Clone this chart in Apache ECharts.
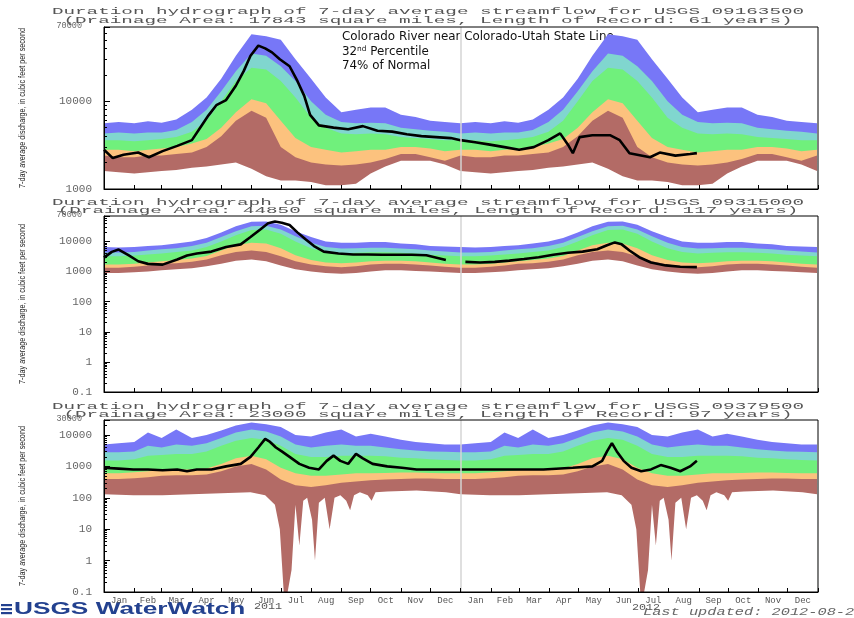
<!DOCTYPE html>
<html lang="en">
<head>
<meta charset="UTF-8">
<title>Duration hydrographs - Colorado, Green, San Juan</title>
<script src="https://cdn.jsdelivr.net/npm/echarts@6/dist/echarts.min.js"></script>
<style>
html, body { margin: 0; padding: 0; background: #fff; }
#chart { width: 854px; height: 618px; }
</style>
</head>
<body>
<div id="chart"></div>
<script>
// x axis: days since 2011-01-01
var monthNames = ['Jan','Feb','Mar','Apr','May','Jun','Jul','Aug','Sep','Oct','Nov','Dec'];
var monthStarts = [0,31,59,90,120,151,181,212,243,273,304,334,365,396,425,456,486,517,547,578,609,639,670,700,731];
var yearLabels = ['2011', '2012'];

// percentile bands, day of year (same statistics are drawn for both years)
var bandDays = [0,15,31,45,59,74,90,105,120,135,151,166,181,196,212,227,243,258,273,288,304,319,334,349,365];

// --- Colorado River near Colorado-Utah State Line (09163500)
var coMax = [5600,5800,5600,5900,5700,6200,8000,11000,18000,33000,58000,55000,50000,30000,18000,11000,7500,8000,8500,8500,7000,6600,6000,5800,5600];
var coP90 = [4300,4400,4300,4400,4400,4700,5800,8000,13000,22000,35000,33000,25000,17000,10000,7000,5800,5600,5700,5600,5000,4800,4600,4500,4300];
var coP75 = [3600,3600,3500,3600,3700,3900,4500,6000,10000,17000,24000,23000,17000,11000,6500,5000,4300,4200,4300,4200,3900,3800,3700,3600,3600];
var coP25 = [2800,2800,2700,2800,2900,3000,3300,3700,5000,7500,10500,9500,6000,3800,3000,2800,2600,2700,2800,2800,3000,3000,2900,2700,2800];
var coP10 = [2400,2300,2300,2400,2400,2500,2600,3000,4000,6000,7800,6500,3000,2300,2000,1900,1850,1900,2000,2200,2500,2500,2300,2100,2400];
var coMin = [1600,1550,1500,1550,1600,1650,1750,1800,1900,2000,1700,1400,1250,1250,1200,1100,1100,1150,1500,1800,2100,2100,2100,1900,1600];
var coObsDays = [0,9,20,35,46,60,75,90,100,107,115,125,135,143,150,158,165,172,180,190,198,205,211,220,235,250,265,280,295,310,325,340,355,365,380,395,410,425,440,455,467,475,480,487,500,518,528,538,559,569,585,600,607];
var coObs = [2800,2250,2450,2600,2300,2700,3100,3600,5300,6900,9000,10300,15000,22000,33000,43000,40000,36000,30000,25000,17000,11500,7000,5300,5000,4800,5200,4600,4500,4200,4000,3900,3800,3600,3400,3200,3000,2800,3000,3600,4300,3200,2560,3900,4100,4100,3600,2560,2300,2600,2400,2500,2560];

// --- Green River at Green River, Utah (09315000)
var grMax = [6500,6300,6600,7000,7500,8500,10000,13000,20000,32000,45000,46000,36000,22000,14000,10000,9000,9000,9500,9500,8500,8000,7000,6800,6500];
var grP90 = [4300,4300,4500,5000,5500,6000,7000,9000,14000,22000,32000,33000,25000,15000,9000,6500,5800,6000,6200,6200,5800,5500,5000,4600,4300];
var grP75 = [3200,3200,3400,3700,4000,4500,5000,6500,10000,16000,24000,25000,18000,10000,6000,4500,4000,4200,4400,4400,4200,4000,3600,3400,3200];
var grP25 = [1700,1700,1800,2000,2200,2400,2700,3300,5000,7500,9000,8500,6000,3500,2400,2000,1900,2000,2200,2300,2300,2200,2000,1800,1700];
var grP10 = [1350,1350,1450,1600,1800,1900,2100,2500,3500,4500,5000,4500,3200,2200,1700,1500,1400,1500,1700,1800,1800,1700,1600,1450,1350];
var grMin = [900,900,950,1000,1100,1200,1300,1500,1800,2300,2500,2200,1600,1200,1000,900,850,900,1000,1100,1100,1050,1000,950,900];
var grObsDays = [0,8,15,25,35,45,60,75,85,95,110,125,140,150,160,168,175,182,190,198,206,215,225,240,255,270,285,300,315,330,350,360,370,385,400,415,430,445,460,475,490,505,515,523,530,538,548,560,575,590,607];
var grObs = [2900,4500,5400,3500,2200,1800,1700,2500,3400,4000,4600,6500,8000,14000,25000,40000,46000,42000,35000,20000,12000,7000,4600,4000,3700,3700,3600,3600,3600,3500,2400,null,2100,2000,2100,2300,2600,3000,3600,4200,4600,5500,7500,9300,8000,5000,3000,2000,1600,1450,1400];

// --- San Juan River near Bluff, Utah (09379500)
var sjMax = [5000,5500,6000,12000,8000,15000,8000,10000,14000,20000,25000,22000,18000,10000,9000,12000,15000,9000,11000,9000,7000,6000,5500,5000,5000];
var sjP90 = [2800,2800,3000,4500,4000,5000,4500,5500,8000,12000,15000,13000,9000,5000,4000,4500,5000,4500,4500,4000,3500,3200,3000,2900,2800];
var sjP75 = [1550,1550,1700,2200,2300,2500,2500,3000,4500,6500,8000,7000,4500,2500,2000,2000,2200,2200,2200,2100,1900,1800,1700,1600,1550];
var sjP25 = [600,600,650,700,750,800,800,850,1200,1800,2200,1700,900,600,500,500,550,600,600,620,640,640,620,610,600];
var sjP10 = [400,400,420,450,500,520,520,550,700,1000,1200,800,380,250,220,250,300,330,360,380,400,410,410,400,400];
var sjMinDays = [0,30,60,90,120,150,165,175,180,184,188,192,196,200,204,208,213,216,220,226,231,236,242,248,252,256,262,270,274,278,290,320,350,365];
var sjMin = [130,120,120,130,140,150,120,60,10,0.1,0.1,0.5,60,3,80,100,20,1,70,100,10,100,120,80,40,120,150,120,80,150,160,170,150,130];
var sjObsDays = [0,15,30,45,60,75,85,95,110,125,140,150,158,165,170,176,182,190,200,210,220,228,235,242,250,258,265,275,290,305,320,340,365,390,420,450,480,500,510,515,520,525,532,540,550,560,570,580,590,600,607];
var sjObs = [900,850,800,800,750,800,700,800,800,1000,1200,2000,4000,7500,6000,4000,3000,2000,1200,900,800,1500,2200,1500,1200,2500,1800,1200,1000,900,800,800,800,800,800,800,900,1000,1500,3000,5500,3000,1500,900,700,800,1100,900,700,1000,1500];

var colors = { max: '#7777f7', p90: '#80d6cf', p75: '#70f07c', p25: '#fcc27e', p10: '#b36b66', min: '#ffffff' };

var chart = echarts.init(document.getElementById('chart'));

function twoYears(days, vals) {
    var out = [];
    for (var y = 0; y < 2; y++) {
        for (var i = 0; i < days.length; i++) out.push([days[i] + 365 * y, vals[i]]);
    }
    return out;
}
function pairs(days, vals) {
    return days.map(function (d, i) { return [d, vals[i]]; });
}
function band(gi, days, vals, color) {
    return {
        type: 'line', xAxisIndex: gi, yAxisIndex: gi,
        data: twoYears(days, vals),
        symbol: 'none', silent: true,
        lineStyle: { width: 0 },
        areaStyle: { color: color, opacity: 1, origin: 'start' }
    };
}
function obs(gi, days, vals) {
    return {
        type: 'line', xAxisIndex: gi, yAxisIndex: gi,
        data: pairs(days, vals),
        symbol: 'none', silent: true,
        lineStyle: { color: '#000', width: 2.6 },
        markLine: {
            silent: true, symbol: ['none', 'none'], label: { show: false },
            lineStyle: { color: '#d4d4d4', width: 1.5, type: 'solid' },
            data: [{ xAxis: 365 }]
        }
    };
}

var monthMids = [];
for (var m = 0; m < 24; m++) monthMids.push((monthStarts[m] + monthStarts[m + 1]) / 2);

var grids = [
    { left: 104, top: 27, width: 714, height: 162 },
    { left: 104, top: 216, width: 714, height: 176 },
    { left: 104, top: 420, width: 714, height: 172 }
];
var yRanges = [[1000, 70000], [0.1, 70000], [0.1, 30000]];

var xAxes = grids.map(function (g, i) {
    return {
        type: 'value', gridIndex: i, min: 0, max: 731, z: 10,
        axisLine: { lineStyle: { color: '#000', width: 1 } },
        axisTick: { inside: true, length: 4, customValues: monthStarts, lineStyle: { color: '#000' } },
        splitLine: { show: false },
        axisLabel: {
            show: i === 2, customValues: monthMids, margin: 4,
            color: '#555', fontFamily: 'Liberation Mono', fontSize: 9,
            formatter: function (v) {
                var k = 0;
                for (var j = 0; j < monthMids.length; j++) if (Math.abs(monthMids[j] - v) < 1) k = j;
                return monthNames[k % 12];
            }
        }
    };
});
var yAxes = grids.map(function (g, i) {
    var top = yRanges[i][1];
    return {
        type: 'log', logBase: 10, gridIndex: i, min: yRanges[i][0], max: top, z: 10,
        axisLine: { show: true, lineStyle: { color: '#000', width: 1 } },
        axisTick: { inside: true, length: 6, lineStyle: { color: '#000' } },
        minorTick: { show: true, splitNumber: 9, length: 3, lineStyle: { color: '#000' } },
        splitLine: { show: false },
        axisLabel: {
            color: '#666', fontFamily: 'Liberation Mono', fontSize: 11, margin: 12,
            formatter: function (v) { return v >= top ? '{s|' + v + '}' : String(v); },
            rich: { s: { fontFamily: 'Liberation Mono', fontSize: 8.5, color: '#666', padding: [0, 10, 3, 0] } }
        }
    };
});

var series = [];
[[coMax, coP90, coP75, coP25, coP10, coMin, coObsDays, coObs, bandDays],
 [grMax, grP90, grP75, grP25, grP10, grMin, grObsDays, grObs, bandDays],
 [sjMax, sjP90, sjP75, sjP25, sjP10, sjMin, sjObsDays, sjObs, sjMinDays]].forEach(function (s, gi) {
    series.push(band(gi, bandDays, s[0], colors.max));
    series.push(band(gi, bandDays, s[1], colors.p90));
    series.push(band(gi, bandDays, s[2], colors.p75));
    series.push(band(gi, bandDays, s[3], colors.p25));
    series.push(band(gi, bandDays, s[4], colors.p10));
    series.push(band(gi, s[8], s[5], colors.min));
    series.push(obs(gi, s[6], s[7]));
});

var titleFont = { fontFamily: 'Liberation Mono', fontSize: 9.5, fill: '#555', align: 'center', verticalAlign: 'middle' };
function stretched(text, x, y, sx, style) {
    return { type: 'text', x: x, y: y, scaleX: sx, silent: true, style: Object.assign({ text: text }, style) };
}
var panelTitles = [
    ['Duration hydrograph of 7-day average streamflow for USGS 09163500', '(Drainage Area: 17843 square miles, Length of Record: 61 years)', 11, 20],
    ['Duration hydrograph of 7-day average streamflow for USGS 09315000', '(Drainage Area: 44850 square miles, Length of Record: 117 years)', 202, 210],
    ['Duration hydrograph of 7-day average streamflow for USGS 09379500', '(Drainage Area: 23000 square miles, Length of Record: 97 years)', 406, 414]
];
var notes = [
    ['Colorado River near Colorado-Utah State Line', '32', 'nd', '74% of Normal', 342, 37],
    ['Green River at Green River, Utah', '11', 'th', '40% of Normal', 367, 317],
    ['San Juan River near Bluff, Utah', '57', 'th', '86% of Normal', 370, 535]
];
var yName = '7-day average discharge, in cubic feet per second';

var graphics = [];
panelTitles.forEach(function (t) {
    graphics.push(stretched(t[0], 428, t[2], 2.03, titleFont));
    graphics.push(stretched(t[1], 428, t[3], 2.03, titleFont));
});
grids.forEach(function (g) {
    graphics.push({
        type: 'text', x: 23, y: g.top + g.height / 2, rotation: Math.PI / 2, scaleX: 0.85, silent: true,
        style: { text: yName, fontFamily: 'Liberation Sans', fontSize: 8.5, fill: '#222', align: 'center', verticalAlign: 'middle' }
    });
});
notes.forEach(function (n) {
    var st = { fontFamily: 'DejaVu Sans', fontSize: 12, fill: '#111', align: 'left', verticalAlign: 'middle' };
    graphics.push({ type: 'text', x: n[4], y: n[5], scaleX: 0.99, silent: true, style: Object.assign({ text: n[0] }, st) });
    graphics.push({
        type: 'text', x: n[4], y: n[5] + 14.5, scaleX: 0.99, silent: true,
        style: Object.assign({
            text: n[1] + '{s|' + n[2] + '} Percentile',
            rich: { s: { fontFamily: 'DejaVu Sans', fontSize: 7.5, verticalAlign: 'top', fill: '#111' } }
        }, st)
    });
    graphics.push({ type: 'text', x: n[4], y: n[5] + 29, scaleX: 0.99, silent: true, style: Object.assign({ text: n[3] }, st) });
});
// year captions under the month labels
graphics.push(stretched(yearLabels[0], 268, 607, 1.3, { fontFamily: 'Liberation Mono', fontSize: 9, fill: '#555', align: 'center', verticalAlign: 'middle' }));
graphics.push(stretched(yearLabels[1], 646, 608, 1.3, { fontFamily: 'Liberation Mono', fontSize: 9, fill: '#555', align: 'center', verticalAlign: 'middle' }));
// USGS WaterWatch logo
[604, 608, 612].forEach(function (yy) {
    graphics.push({ type: 'rect', silent: true, shape: { x: 1, y: yy, width: 11, height: 2.2 }, style: { fill: '#23418f' } });
});
graphics.push(stretched('USGS WaterWatch', 14, 610, 1.64, { fontFamily: 'Liberation Sans', fontWeight: 'bold', fontSize: 16, fill: '#23418f', align: 'left', verticalAlign: 'middle' }));
graphics.push(stretched('Last updated: 2012-08-28', 643, 612, 1.53, { fontFamily: 'Liberation Mono', fontStyle: 'italic', fontSize: 10, fill: '#666', align: 'left', verticalAlign: 'middle' }));

chart.setOption({
    animation: false,
    backgroundColor: '#fff',
    grid: grids.map(function (g) { return Object.assign({ show: true, borderColor: '#000', borderWidth: 1, z: 10 }, g); }),
    xAxis: xAxes,
    yAxis: yAxes,
    series: series,
    graphic: graphics
});
</script>
</body>
</html>
